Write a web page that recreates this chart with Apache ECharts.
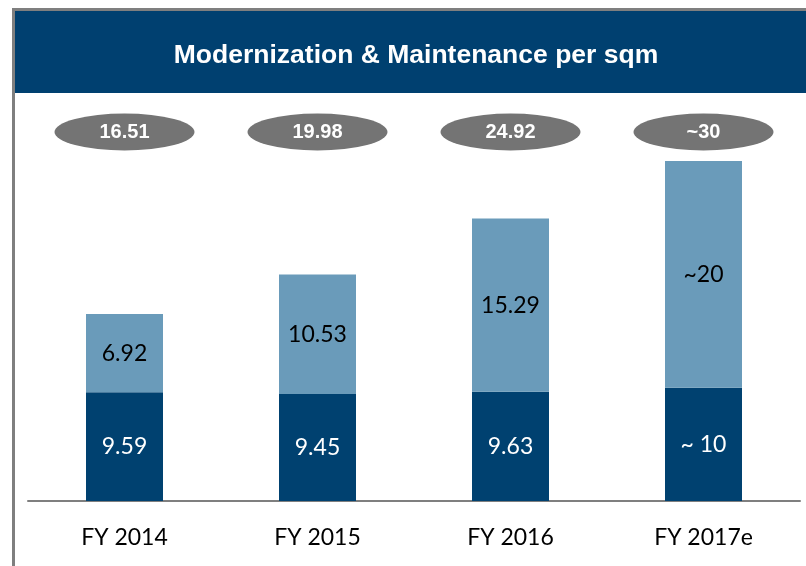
<!DOCTYPE html>
<html>
<head>
<meta charset="utf-8">
<script src="https://cdn.jsdelivr.net/npm/echarts@6/dist/echarts.min.js"></script>
<style>
html, body { margin: 0; padding: 0; background: #fff; }
#chart { width: 806px; height: 566px; }
</style>
</head>
<body>
<div id="chart"></div>
<script>
var categories = ['FY 2014', 'FY 2015', 'FY 2016', 'FY 2017e'];
var maintenance = [9.59, 9.45, 9.63, 10];
var modernization = [6.92, 10.53, 15.29, 20];
var maintenanceLabels = ['9.59', '9.45', '9.63', '~ 10'];
var modernizationLabels = ['6.92', '10.53', '15.29', '~20'];
var totalLabels = ['16.51', '19.98', '24.92', '~30'];

var myChart = echarts.init(document.getElementById('chart'));

var option = {
    animation: false,
    graphic: [{
        type: 'rect',
        shape: { x: 14, y: 11, width: 792, height: 82 },
        style: { fill: '#004070' },
        z: 0
    }, {
        type: 'polyline',
        shape: { points: [[13.5, 566], [13.5, 9.5], [806, 9.5]] },
        style: { stroke: '#7f7f7f', lineWidth: 3, fill: null },
        z: 1
    }],
    title: {
        text: 'Modernization & Maintenance per sqm',
        left: 411,
        top: 37,
        textAlign: 'center',
        textStyle: {
            color: '#fff',
            fontFamily: 'Liberation Sans',
            fontWeight: 'bold',
            fontSize: 26.5
        }
    },
    grid: [{
        left: 28,
        right: 6,
        top: 161,
        bottom: 65
    }, {
        left: 28,
        right: 6,
        top: 112,
        height: 40
    }],
    xAxis: [{
        type: 'category',
        data: categories,
        gridIndex: 0,
        axisLine: { lineStyle: { color: '#7f7f7f', width: 2 } },
        axisTick: { show: false },
        axisLabel: {
            color: '#000',
            fontFamily: 'Lato',
            fontSize: 23,
            margin: 25
        }
    }, {
        type: 'category',
        data: categories,
        gridIndex: 1,
        show: false
    }],
    yAxis: [{
        type: 'value',
        min: 0,
        max: 30,
        gridIndex: 0,
        show: false
    }, {
        type: 'value',
        min: -1,
        max: 1,
        gridIndex: 1,
        show: false
    }],
    series: [{
        name: 'Maintenance',
        type: 'bar',
        stack: 'total',
        barWidth: 77,
        data: maintenance,
        itemStyle: { color: '#004170' },
        label: {
            show: true,
            position: 'inside',
            color: '#fff',
            fontFamily: 'Lato',
            fontSize: 23,
            formatter: function (p) { return maintenanceLabels[p.dataIndex]; }
        }
    }, {
        name: 'Modernization',
        type: 'bar',
        stack: 'total',
        barWidth: 77,
        data: modernization,
        itemStyle: { color: '#6a9bba' },
        label: {
            show: true,
            position: 'inside',
            color: '#000',
            fontFamily: 'Lato',
            fontSize: 23,
            formatter: function (p) { return modernizationLabels[p.dataIndex]; }
        }
    }, {
        name: 'Total',
        type: 'scatter',
        xAxisIndex: 1,
        yAxisIndex: 1,
        symbol: 'circle',
        symbolSize: [140, 37],
        data: categories.map(function (c) { return [c, 0]; }),
        itemStyle: { color: '#747474', opacity: 1 },
        label: {
            show: true,
            position: 'inside',
            color: '#fff',
            fontFamily: 'Liberation Sans',
            fontWeight: 'bold',
            fontSize: 20,
            formatter: function (p) { return totalLabels[p.dataIndex]; }
        }
    }]
};

myChart.setOption(option);
</script>
</body>
</html>
